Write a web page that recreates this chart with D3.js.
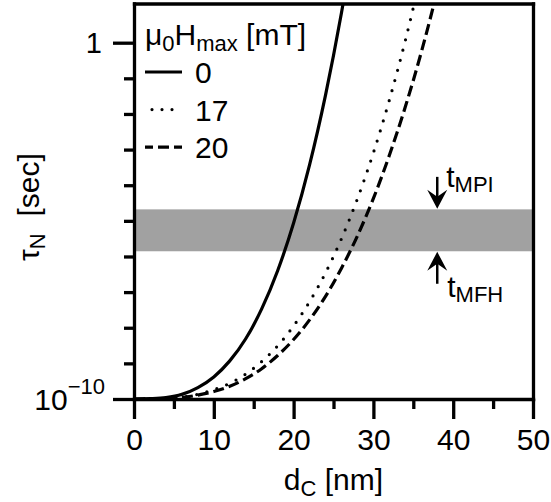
<!DOCTYPE html>
<html>
<head>
<meta charset="utf-8"/>
<script src="https://d3js.org/d3.v7.min.js" charset="utf-8"></script>
<style>
body { margin: 0; background: #fff; }
text { font-family: "Liberation Sans", Arial, Helvetica, sans-serif; fill: #000; }
.axis path, .axis line { stroke: #000; stroke-width: 3.3; }
.axis .domain { stroke-linecap: square; }
.curve { fill: none; stroke: #000; stroke-width: 3.2; }
</style>
</head>
<body>
<svg id="svg" width="551" height="502"></svg>
<script>
// field values in the legend (mT)
var fieldLabels = ["0", "17", "20"];

// core size d_C (nm) and log10 of Neel time (s)
var size0 = [0, 2, 4, 6, 8, 10, 12, 14, 16, 18, 20, 22, 24, 25, 26, 26.5];
var logTau0 = [-10, -9.99, -9.96, -9.87, -9.68, -9.38, -8.93, -8.31, -7.47, -6.40, -5.06, -3.43, -1.47, -0.36, 0.84, 1.48];

var size17 = [0, 4, 8, 10, 12, 14, 16, 18, 20, 22, 24, 26, 28, 30, 32, 34, 35, 36];
var logTau17 = [-10, -9.98, -9.87, -9.74, -9.56, -9.30, -8.95, -8.51, -7.95, -7.27, -6.46, -5.50, -4.38, -3.09, -1.61, 0.06, 0.98, 1.94];

var size20 = [0, 4, 8, 10, 12, 14, 16, 18, 20, 22, 24, 26, 28, 30, 32, 34, 36, 37, 38];
var logTau20 = [-10, -9.99, -9.89, -9.79, -9.64, -9.43, -9.15, -8.78, -8.33, -7.78, -7.12, -6.33, -5.42, -4.37, -3.16, -1.80, -0.27, 0.57, 1.45];

// measurement time window (s)
var bandLow = 1.4e-6, bandHigh = 2.1e-5;
var arrowSize = 38;

var xTicks = [0, 10, 20, 30, 40, 50];
var xMinor = [5, 15, 25, 35, 45];
var yMajor = [1e-10, 1];
var yMinor = [1e-9, 1e-8, 1e-7, 1e-6, 1e-5, 1e-4, 1e-3, 1e-2, 1e-1];

var svg = d3.select("#svg");

var x = d3.scaleLinear().domain([0, 50]).range([134, 533]);
var y = d3.scaleLog().domain([1e-10, Math.pow(10, 1.1)]).range([399, 3.5]);

svg.append("clipPath").attr("id", "plotclip")
  .append("rect")
  .attr("x", x(0)).attr("y", y.range()[1])
  .attr("width", x(50) - x(0)).attr("height", y.range()[0] - y.range()[1]);

// grey band
svg.append("rect")
  .attr("x", x(0))
  .attr("y", y(bandHigh))
  .attr("width", x(50) - x(0))
  .attr("height", y(bandLow) - y(bandHigh))
  .attr("fill", "#a1a1a1");

var series = [
  { size: size0, logTau: logTau0, dash: null },
  { size: size17, logTau: logTau17, dash: "0,10.5" },
  { size: size20, logTau: logTau20, dash: "11,5" }
];

var line = d3.line()
  .x(function(d) { return x(d[0]); })
  .y(function(d) { return y(Math.pow(10, d[1])); })
  .curve(d3.curveMonotoneX);

var curves = svg.append("g").attr("clip-path", "url(#plotclip)");
series.forEach(function(s, i) {
  var pts = s.size.map(function(v, k) { return [v, s.logTau[k]]; });
  curves.append("path")
    .attr("class", "curve")
    .attr("d", line(pts))
    .attr("stroke-dasharray", s.dash)
    .attr("stroke-width", i == 1 ? 3.8 : 3.2)
    .attr("stroke-linecap", i == 1 ? "round" : "butt");
});

// axes
svg.append("g").attr("class", "axis")
  .attr("transform", "translate(" + x(0) + ",0)")
  .call(d3.axisLeft(y).tickValues(yMinor).tickSize(10).tickSizeOuter(0).tickFormat(""));
svg.append("g").attr("class", "axis")
  .attr("transform", "translate(" + x(0) + ",0)")
  .call(d3.axisLeft(y).tickValues(yMajor).tickSize(21).tickSizeOuter(0).tickFormat(""))
  .select(".domain").remove();

var gBottom = svg.append("g").attr("class", "axis")
  .attr("transform", "translate(0," + y(1e-10) + ")")
  .call(d3.axisBottom(x).tickValues(xTicks).tickSize(20).tickSizeOuter(0).tickPadding(10));
gBottom.selectAll("text")
  .style("font-size", "30px")
  .style("font-family", "'Liberation Sans', Arial, sans-serif");
svg.append("g").attr("class", "axis")
  .attr("transform", "translate(0," + y(1e-10) + ")")
  .call(d3.axisBottom(x).tickValues(xMinor).tickSize(10).tickSizeOuter(0).tickFormat(""))
  .select(".domain").remove();

svg.append("g").attr("class", "axis")
  .attr("transform", "translate(0," + y.range()[1] + ")")
  .call(d3.axisTop(x).tickValues([]).tickSizeOuter(0));
svg.append("g").attr("class", "axis")
  .attr("transform", "translate(" + x(50) + ",0)")
  .call(d3.axisRight(y).tickValues([]).tickSizeOuter(0));

// y tick labels
svg.append("text")
  .attr("x", 102).attr("y", y(1) + 10)
  .attr("text-anchor", "end")
  .style("font-size", "29px")
  .text("1");
var t10 = svg.append("text")
  .attr("x", 105).attr("y", y(1e-10) + 11)
  .attr("text-anchor", "end")
  .style("font-size", "30px");
t10.append("tspan").text("10");
t10.append("tspan").attr("dy", -16).style("font-size", "22px").text("\u221210");

// axis titles
var xt = svg.append("text")
  .attr("x", (x(0) + x(50)) / 2).attr("y", 490)
  .attr("text-anchor", "middle")
  .style("font-size", "30px");
xt.append("tspan").text("d");
xt.append("tspan").attr("dy", 6).style("font-size", "22px").text("C");
xt.append("tspan").attr("dy", -6).text(" [nm]");

var yt = svg.append("text")
  .attr("transform", "translate(39,261) rotate(-90)")
  .style("font-size", "30px");
yt.append("tspan").text("\u03c4");
yt.append("tspan").attr("dy", 6).style("font-size", "22px").text("N");
yt.append("tspan").attr("dy", -6).text("\u00a0\u00a0[sec]");

// legend
var lt = svg.append("text")
  .attr("x", 145).attr("y", 45)
  .style("font-size", "30px");
lt.append("tspan").text("\u03bc");
lt.append("tspan").attr("dy", 6).style("font-size", "22px").text("0");
lt.append("tspan").attr("dy", -6).text("H");
lt.append("tspan").attr("dy", 6).style("font-size", "22px").text("max");
lt.append("tspan").attr("dy", -6).text(" [mT]");

fieldLabels.forEach(function(lab, i) {
  var by = 83 + 37.6 * i;
  var s = series[i];
  var l = svg.append("line")
    .attr("class", "curve")
    .attr("x1", i == 1 ? 152 : 145).attr("x2", i == 1 ? 173 : 182)
    .attr("y1", by - 11).attr("y2", by - 11)
    .attr("stroke-dasharray", i == 1 ? "0,10" : s.dash)
    .attr("stroke-width", i == 1 ? 3.8 : 3.2)
    .attr("stroke-linecap", i == 1 ? "round" : "butt");
  if (i == 2) l.attr("stroke-dashoffset", 3);
  svg.append("text")
    .attr("x", 195).attr("y", by)
    .style("font-size", "30px")
    .text(lab);
});

// arrows marking the time window
var ax = x(arrowSize);
function arrow(tipY, dir) {
  // dir = 1 points down, -1 points up
  svg.append("line")
    .attr("x1", ax).attr("x2", ax)
    .attr("y1", tipY - dir * 32).attr("y2", tipY - dir * 8)
    .attr("stroke", "#000").attr("stroke-width", 2.5);
  svg.append("path")
    .attr("d", "M0,0L-10,-19L0,-12L10,-19Z")
    .attr("transform", "translate(" + ax + "," + tipY + ") scale(1," + dir + ")")
    .attr("fill", "#000");
}
arrow(y(bandHigh) - 0.5, 1);
arrow(y(bandLow) + 0.5, -1);

var tm = svg.append("text").attr("x", ax + 9).attr("y", 187).style("font-size", "30px");
tm.append("tspan").text("t");
tm.append("tspan").attr("dy", 5).style("font-size", "22px").text("MPI");
var tf = svg.append("text").attr("x", ax + 10).attr("y", 297).style("font-size", "30px");
tf.append("tspan").text("t");
tf.append("tspan").attr("dy", 5).style("font-size", "22px").text("MFH");
</script>
</body>
</html>
